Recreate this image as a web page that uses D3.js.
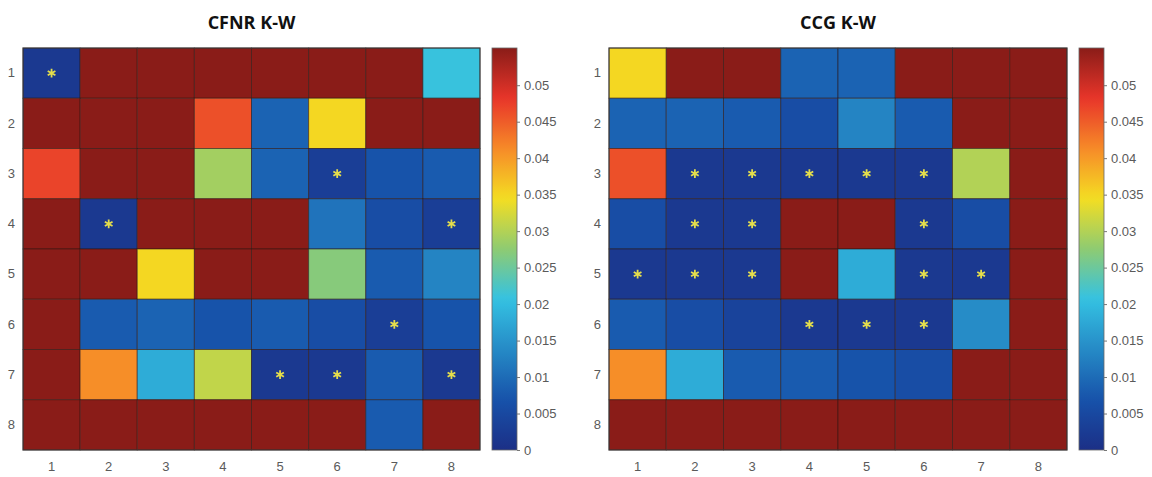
<!DOCTYPE html>
<html>
<head>
<meta charset="utf-8">
<script src="https://cdn.jsdelivr.net/npm/d3@7"></script>
<style>
  body { margin: 0; background: #fff; }
  svg { display: block; }
</style>
</head>
<body>
<svg id="chart" width="1152" height="477"></svg>
<script>
// --- data (p-values, 8x8, rows top->bottom) ---
const rowLabels = [1, 2, 3, 4, 5, 6, 7, 8];
const colLabels = [1, 2, 3, 4, 5, 6, 7, 8];
const TOP = 0.0551; // cells at or above this show the darkest red

const cfnrTitle = "CFNR K-W";
const cfnrValues = [
  [0.002, TOP, TOP, TOP, TOP, TOP, TOP, 0.021],
  [TOP, TOP, TOP, 0.046, 0.009, 0.035, TOP, TOP],
  [0.047, TOP, TOP, 0.029, 0.009, 0.003, 0.007, 0.008],
  [TOP, 0.002, TOP, TOP, TOP, 0.011, 0.006, 0.003],
  [TOP, TOP, 0.035, TOP, TOP, 0.027, 0.008, 0.013],
  [TOP, 0.008, 0.009, 0.007, 0.008, 0.006, 0.003, 0.007],
  [TOP, 0.041, 0.018, 0.031, 0.002, 0.002, 0.008, 0.002],
  [TOP, TOP, TOP, TOP, TOP, TOP, 0.008, TOP]
];
// [row, col] of cells marked with an asterisk
const cfnrStars = [[1, 1], [3, 6], [4, 2], [4, 8], [6, 7], [7, 5], [7, 6], [7, 8]];

const ccgTitle = "CCG K-W";
const ccgValues = [
  [0.035, TOP, TOP, 0.009, 0.009, TOP, TOP, TOP],
  [0.009, 0.009, 0.008, 0.006, 0.013, 0.008, TOP, TOP],
  [0.046, 0.002, 0.002, 0.002, 0.002, 0.002, 0.030, TOP],
  [0.006, 0.002, 0.002, TOP, TOP, 0.002, 0.006, TOP],
  [0.002, 0.002, 0.002, TOP, 0.018, 0.002, 0.002, TOP],
  [0.008, 0.006, 0.004, 0.002, 0.002, 0.002, 0.014, TOP],
  [0.041, 0.018, 0.008, 0.008, 0.007, 0.006, TOP, TOP],
  [TOP, TOP, TOP, TOP, TOP, TOP, TOP, TOP]
];
const ccgStars = [
  [3, 2], [3, 3], [3, 4], [3, 5], [3, 6],
  [4, 2], [4, 3], [4, 6],
  [5, 1], [5, 2], [5, 3], [5, 6], [5, 7],
  [6, 4], [6, 5], [6, 6]
];

const colorbarTicks = [0, 0.005, 0.01, 0.015, 0.02, 0.025, 0.03, 0.035, 0.04, 0.045, 0.05];

// jet-like colormap, slightly washed out like the scanned figure
const jetStops = [0, 0.125, 0.375, 0.5, 0.625, 0.75, 0.875, 1];
const jetColors = ["#1c2f86", "#1752aa", "#34c2e2", "#8ecb72", "#f4de22", "#f68a28", "#e8352a", "#8a1c18"];
const color = d3.scaleLinear()
  .domain(jetStops.map((t) => t * TOP))
  .range(jetColors)
  .interpolate(d3.interpolateRgb)
  .clamp(true);

const svg = d3.select("#chart");
const defs = svg.append("defs");

const grad = defs.append("linearGradient")
  .attr("id", "jet")
  .attr("x1", 0).attr("y1", 1)
  .attr("x2", 0).attr("y2", 0);
d3.range(0, 1.0001, 0.02).forEach((t) => {
  grad.append("stop")
    .attr("offset", t)
    .attr("stop-color", color(t * TOP));
});

const labelFont = "'Liberation Sans', Arial, sans-serif";

function drawPanel(cfg) {
  const { title, values, stars, left, right, cbLeft } = cfg;
  const top = 48, bottom = 450;

  const x = d3.scaleBand().domain(colLabels).range([left, right]);
  const y = d3.scaleBand().domain(rowLabels).range([top, bottom]);
  const cb = d3.scaleLinear().domain([0, TOP]).range([bottom, top]);

  const g = svg.append("g");

  // title
  g.append("text")
    .attr("x", (left + right) / 2)
    .attr("y", 29)
    .attr("text-anchor", "middle")
    .attr("font-family", "'Open Sans', sans-serif")
    .attr("font-weight", "bold")
    .attr("font-size", 18)
    .attr("fill", "#111")
    .text(title);

  // cells
  const cells = [];
  values.forEach((row, i) => {
    row.forEach((v, j) => {
      cells.push({ r: rowLabels[i], c: colLabels[j], v: v });
    });
  });
  g.selectAll("rect.cell")
    .data(cells)
    .join("rect")
    .attr("class", "cell")
    .attr("x", (d) => x(d.c))
    .attr("y", (d) => y(d.r))
    .attr("width", x.bandwidth())
    .attr("height", y.bandwidth())
    .attr("fill", (d) => color(d.v))
    .attr("stroke", "#2b1512")
    .attr("stroke-opacity", 0.55)
    .attr("stroke-width", 1);

  // asterisks
  const star = d3.symbol().type(d3.symbolAsterisk || d3.symbolCross).size(55);
  g.selectAll("path.star")
    .data(stars)
    .join("path")
    .attr("class", "star")
    .attr("transform", (d) => `translate(${x(d[1]) + x.bandwidth() / 2},${y(d[0]) + y.bandwidth() / 2})`)
    .attr("d", star)
    .attr("fill", "none")
    .attr("stroke", "#e4de4c")
    .attr("stroke-width", 1.8);

  // axes box
  g.append("rect")
    .attr("x", left).attr("y", top)
    .attr("width", right - left).attr("height", bottom - top)
    .attr("fill", "none")
    .attr("stroke", "#3a3a3a")
    .attr("stroke-width", 1);

  // x axis labels
  const xAxis = d3.axisBottom(x).tickSize(0).tickPadding(12);
  g.append("g")
    .attr("transform", `translate(0,${bottom})`)
    .call(xAxis)
    .call((s) => s.select(".domain").remove())
    .call((s) => s.selectAll("text")
      .attr("font-family", labelFont)
      .attr("font-size", 13)
      .attr("fill", "#5a5a5a"));

  // y axis labels
  const yAxis = d3.axisLeft(y).tickSize(0).tickPadding(8);
  g.append("g")
    .attr("transform", `translate(${left},0)`)
    .call(yAxis)
    .call((s) => s.select(".domain").remove())
    .call((s) => s.selectAll("text")
      .attr("font-family", labelFont)
      .attr("font-size", 13)
      .attr("fill", "#5a5a5a"));

  // colorbar
  g.append("rect")
    .attr("x", cbLeft).attr("y", top)
    .attr("width", 25).attr("height", bottom - top)
    .attr("fill", "url(#jet)")
    .attr("stroke", "#666")
    .attr("stroke-width", 0.8);

  const cbAxis = d3.axisRight(cb)
    .tickValues(colorbarTicks)
    .tickFormat((d) => String(+d.toFixed(3)))
    .tickSize(3)
    .tickPadding(4);
  g.append("g")
    .attr("transform", `translate(${cbLeft + 25},0)`)
    .call(cbAxis)
    .call((s) => s.select(".domain").remove())
    .call((s) => s.selectAll("line").attr("stroke", "#777"))
    .call((s) => s.selectAll("text")
      .attr("font-family", labelFont)
      .attr("font-size", 13)
      .attr("fill", "#5a5a5a"));
}

drawPanel({ title: cfnrTitle, values: cfnrValues, stars: cfnrStars, left: 23, right: 480, cbLeft: 492 });
drawPanel({ title: ccgTitle, values: ccgValues, stars: ccgStars, left: 609, right: 1067, cbLeft: 1079 });
</script>
</body>
</html>
